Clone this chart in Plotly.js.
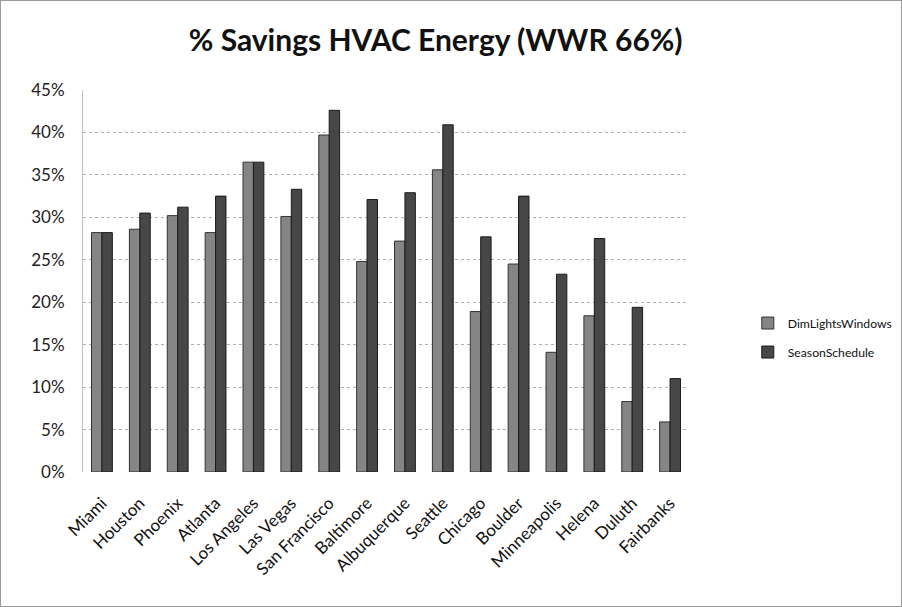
<!DOCTYPE html>
<html>
<head>
<meta charset="utf-8">
<script src="https://cdn.plot.ly/plotly-3.0.1.min.js"></script>
<style>
html,body{margin:0;padding:0;background:#fff;}
#chart{width:900px;height:605px;border:1px solid #9a9a9a;}
</style>
</head>
<body>
<div id="chart"></div>
<script>
const cities = ["Miami","Houston","Phoenix","Atlanta","Los Angeles","Las Vegas","San Francisco","Baltimore","Albuquerque","Seattle","Chicago","Boulder","Minneapolis","Helena","Duluth","Fairbanks"];
const dimLightsWindows = [0.282,0.286,0.302,0.282,0.365,0.301,0.397,0.248,0.272,0.356,0.189,0.245,0.141,0.184,0.083,0.059];
const seasonSchedule = [0.282,0.305,0.312,0.325,0.365,0.333,0.426,0.321,0.329,0.409,0.277,0.325,0.233,0.275,0.194,0.110];
const yTicks = [0,0.05,0.10,0.15,0.20,0.25,0.30,0.35,0.40,0.45];
const yTickText = ["0%","5%","10%","15%","20%","25%","30%","35%","40%","45%"];

const font = "Lato, 'Open Sans', 'DejaVu Sans', sans-serif";
const data = [
  {type:"bar", name:"DimLightsWindows", x:cities, y:dimLightsWindows, legendgroup:"a",
   marker:{color:"#858585", line:{color:"#333333", width:1}}},
  {type:"bar", name:"SeasonSchedule", x:cities, y:seasonSchedule, legendgroup:"b",
   marker:{color:"#474747", line:{color:"#1a1a1a", width:1}}}
];
const layout = {
  width:900, height:605,
  margin:{l:82, r:212, t:89, b:134, autoexpand:false},
  paper_bgcolor:"#fff", plot_bgcolor:"#fff",
  title:{text:"<b>% Savings HVAC Energy (WWR 66%)</b>", font:{family:font, size:30, color:"#111"},
         x:0.483, xanchor:"center", y:0.935, yanchor:"middle"},
  barmode:"group", bargap:0.45, bargroupgap:0,
  xaxis:{tickangle:-45, tickfont:{family:font, size:17, color:"#111"}, showline:false, ticks:"", automargin:false, ticklabelstandoff:17},
  yaxis:{range:[0,0.45], tickvals:yTicks, ticktext:yTickText, tickfont:{family:font, size:17, color:"#222"}, ticklabelstandoff:14,
         showgrid:true, gridcolor:"#b0b0b0", griddash:"dot", gridwidth:1, zeroline:false, showline:true, linecolor:"#c0c0c0", linewidth:1, ticks:"", automargin:false},
  legend:{x:1.097, xanchor:"left", y:0.352, yanchor:"middle", font:{family:font, size:12.2, color:"#111"}, tracegroupgap:10, itemwidth:30},
  showlegend:true
};
Plotly.newPlot("chart", data, layout, {displayModeBar:false, staticPlot:true});
</script>
</body>
</html>
